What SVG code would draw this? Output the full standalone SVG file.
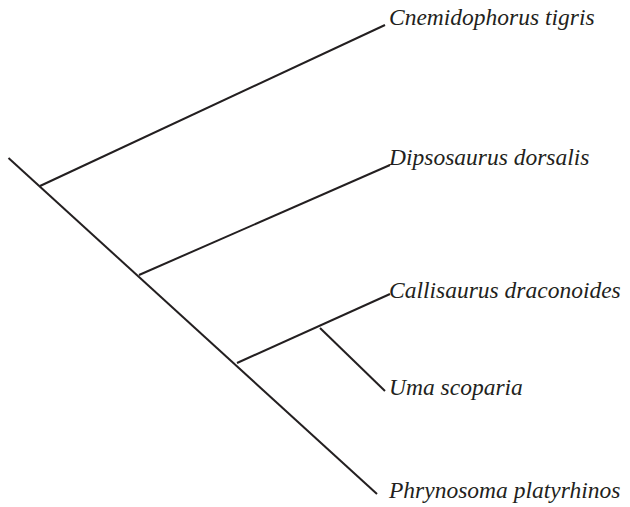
<svg xmlns="http://www.w3.org/2000/svg" width="630" height="507" viewBox="0 0 630 507">
<style>
.e{stroke:#231f20;stroke-width:2;fill:none;stroke-linecap:butt}
.t{font-family:'Liberation Serif','Times New Roman',serif;font-style:italic;font-size:23.5px;fill:#231f20}
</style>
<rect width="630" height="507" fill="#fff"/>
<g id="connectors">
<line class="e" x1="8.5" y1="158" x2="377" y2="494"/>
<line class="e" x1="40" y1="186" x2="385" y2="25"/>
<line class="e" x1="139" y1="275" x2="390" y2="165"/>
<line class="e" x1="237" y1="363" x2="390" y2="294"/>
<line class="e" x1="320" y1="328" x2="385" y2="391"/>
</g>
<g id="cnemidophorus"><text class="t" x="389" y="25">Cnemidophorus tigris</text></g>
<g id="dipsosaurus"><text class="t" x="389" y="165">Dipsosaurus dorsalis</text></g>
<g id="callisaurus"><text class="t" x="389" y="298">Callisaurus draconoides</text></g>
<g id="uma"><text class="t" x="389" y="395">Uma scoparia</text></g>
<g id="phrynosoma"><text class="t" x="389" y="498">Phrynosoma platyrhinos</text></g>
</svg>
